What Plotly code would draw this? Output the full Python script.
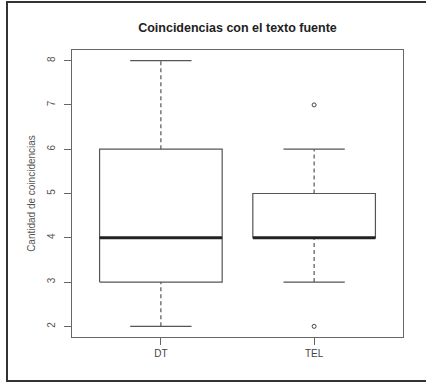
import plotly.graph_objects as go

# Summary statistics per group (R-style boxplot)
categories = ["DT", "TEL"]
lower_whisker = [2, 3]
q1 = [3, 4]
median = [4, 4]
q3 = [6, 5]
upper_whisker = [8, 6]
outliers = [[], [2, 7]]

BOX_HALF = 0.4
CAP_HALF = 0.2
LINE_C = "#555555"
FONT = "Liberation Sans, Arial, sans-serif"

fig = go.Figure()

for i, name in enumerate(categories):
    x = i + 1
    # box body
    fig.add_trace(go.Scatter(
        x=[x - BOX_HALF, x + BOX_HALF, x + BOX_HALF, x - BOX_HALF, x - BOX_HALF],
        y=[q1[i], q1[i], q3[i], q3[i], q1[i]],
        mode="lines", line=dict(color=LINE_C, width=1.2),
        hoverinfo="skip", showlegend=False))
    # dashed whiskers
    fig.add_trace(go.Scatter(
        x=[x, x, None, x, x],
        y=[lower_whisker[i], q1[i], None, q3[i], upper_whisker[i]],
        mode="lines", line=dict(color=LINE_C, width=1.2, dash="4px,3px"),
        hoverinfo="skip", showlegend=False))
    # whisker caps
    fig.add_trace(go.Scatter(
        x=[x - CAP_HALF, x + CAP_HALF, None, x - CAP_HALF, x + CAP_HALF],
        y=[lower_whisker[i], lower_whisker[i], None, upper_whisker[i], upper_whisker[i]],
        mode="lines", line=dict(color=LINE_C, width=1.2),
        hoverinfo="skip", showlegend=False))
    # median
    fig.add_trace(go.Scatter(
        x=[x - BOX_HALF, x + BOX_HALF],
        y=[median[i], median[i]],
        mode="lines", line=dict(color="#222222", width=3),
        hoverinfo="skip", showlegend=False))
    # outliers
    if outliers[i]:
        fig.add_trace(go.Scatter(
            x=[x] * len(outliers[i]), y=outliers[i],
            mode="markers",
            marker=dict(symbol="circle-open", size=4, color="#444444", line=dict(width=1)),
            showlegend=False))

fig.update_layout(
    width=426, height=383,
    margin=dict(l=72, r=23, t=50, b=46),
    paper_bgcolor="white", plot_bgcolor="white",
    font=dict(family=FONT, size=10, color="#555555"),
    title=dict(text="<b>Coincidencias con el texto fuente</b>",
               x=0.5, xref="paper", xanchor="center",
               y=1 - 28 / 383, yref="container", yanchor="middle",
               font=dict(size=12.5, color="#222222", family=FONT)),
    xaxis=dict(range=[0.42, 2.58], tickvals=[1, 2], ticktext=categories,
               showgrid=False, zeroline=False, showline=True, mirror=True,
               linecolor="#666666", linewidth=1.2,
               ticks="outside", ticklen=7, tickcolor="#666666",
               tickfont=dict(size=10, color="#444444")),
    yaxis=dict(range=[1.76, 8.24], tickvals=[2, 3, 4, 5, 6, 7, 8],
               showgrid=False, zeroline=False, showline=True, mirror=True,
               linecolor="#666666", linewidth=1.2,
               ticks="outside", ticklen=7, tickcolor="#666666",
               tickangle=-90, ticklabelstandoff=5,
               tickfont=dict(size=10, color="#555555"),
               title=dict(text="Cantidad de coincidencias", standoff=8,
                          font=dict(size=10, color="#555555"))),
    shapes=[dict(type="rect", xref="paper", yref="paper",
                 x0=(7 - 72) / 331, x1=(440 - 72) / 331,
                 y0=(337 - 381) / 287, y1=(337 - 2) / 287,
                 line=dict(color="#333333", width=2), fillcolor="rgba(0,0,0,0)",
                 layer="above")],
)

fig.write_html("out.html")
